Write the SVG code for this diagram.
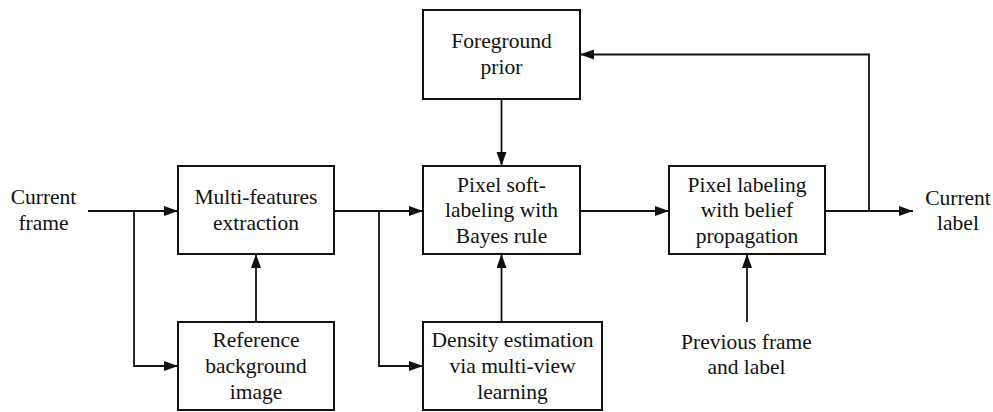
<svg xmlns="http://www.w3.org/2000/svg" width="993" height="412" viewBox="0 0 993 412">
<style>
.box{fill:#fff;stroke:#111;stroke-width:2}
.t{font-size:21.5px;fill:#111;text-anchor:middle}
.c{fill:none;stroke:#111;stroke-width:1.8}
</style>
<defs>
<marker id="ah" markerUnits="userSpaceOnUse" markerWidth="15" markerHeight="11" refX="14" refY="5" orient="auto">
<path d="M0,0 L14,5 L0,10 z" fill="#111"/>
</marker>
</defs>
<rect width="993" height="412" fill="#fff"/>
<g id="connectors">
<path class="c" d="M88,211 H178" marker-end="url(#ah)"/>
<path class="c" d="M134,211 V366 H178" marker-end="url(#ah)"/>
<path class="c" d="M256,322 V254" marker-end="url(#ah)"/>
<path class="c" d="M334,211 H423" marker-end="url(#ah)"/>
<path class="c" d="M379,211 V366 H423" marker-end="url(#ah)"/>
<path class="c" d="M501.5,322 V254" marker-end="url(#ah)"/>
<path class="c" d="M501.5,99 V166" marker-end="url(#ah)"/>
<path class="c" d="M580,211 H669" marker-end="url(#ah)"/>
<path class="c" d="M747,322 V254" marker-end="url(#ah)"/>
<path class="c" d="M825,211 H913" marker-end="url(#ah)"/>
<path class="c" d="M869,211 V54.5 H580" marker-end="url(#ah)"/>
</g>
<g id="current-frame" font-family="Liberation Serif, serif">
<text class="t" x="43.5" y="204">Current</text>
<text class="t" x="43.5" y="230">frame</text>
</g>
<g id="multi-features" font-family="Liberation Serif, serif">
<rect class="box" x="178" y="166" width="156" height="88"/>
<text class="t" x="256" y="204">Multi-features</text>
<text class="t" x="256" y="230">extraction</text>
</g>
<g id="reference-background" font-family="Liberation Serif, serif">
<rect class="box" x="178" y="322" width="156" height="88"/>
<text class="t" x="256" y="347">Reference</text>
<text class="t" x="256" y="373">background</text>
<text class="t" x="256" y="399">image</text>
</g>
<g id="foreground-prior" font-family="Liberation Serif, serif">
<rect class="box" x="423" y="10" width="157" height="89"/>
<text class="t" x="501.5" y="48">Foreground</text>
<text class="t" x="501.5" y="74">prior</text>
</g>
<g id="pixel-soft-labeling" font-family="Liberation Serif, serif">
<rect class="box" x="423" y="166" width="157" height="88"/>
<text class="t" x="501.5" y="191.5">Pixel soft-</text>
<text class="t" x="501.5" y="217">labeling with</text>
<text class="t" x="501.5" y="242.5">Bayes rule</text>
</g>
<g id="density-estimation" font-family="Liberation Serif, serif">
<rect class="box" x="423" y="322" width="179" height="88"/>
<text class="t" x="512.5" y="347">Density estimation</text>
<text class="t" x="512.5" y="373">via multi-view</text>
<text class="t" x="512.5" y="399">learning</text>
</g>
<g id="pixel-labeling" font-family="Liberation Serif, serif">
<rect class="box" x="669" y="166" width="156" height="88"/>
<text class="t" x="747" y="191.5">Pixel labeling</text>
<text class="t" x="747" y="217">with belief</text>
<text class="t" x="747" y="242.5">propagation</text>
</g>
<g id="previous-frame" font-family="Liberation Serif, serif">
<text class="t" x="746.5" y="349">Previous frame</text>
<text class="t" x="746.5" y="374">and label</text>
</g>
<g id="current-label" font-family="Liberation Serif, serif">
<text class="t" x="958" y="205">Current</text>
<text class="t" x="958" y="230">label</text>
</g>
</svg>
